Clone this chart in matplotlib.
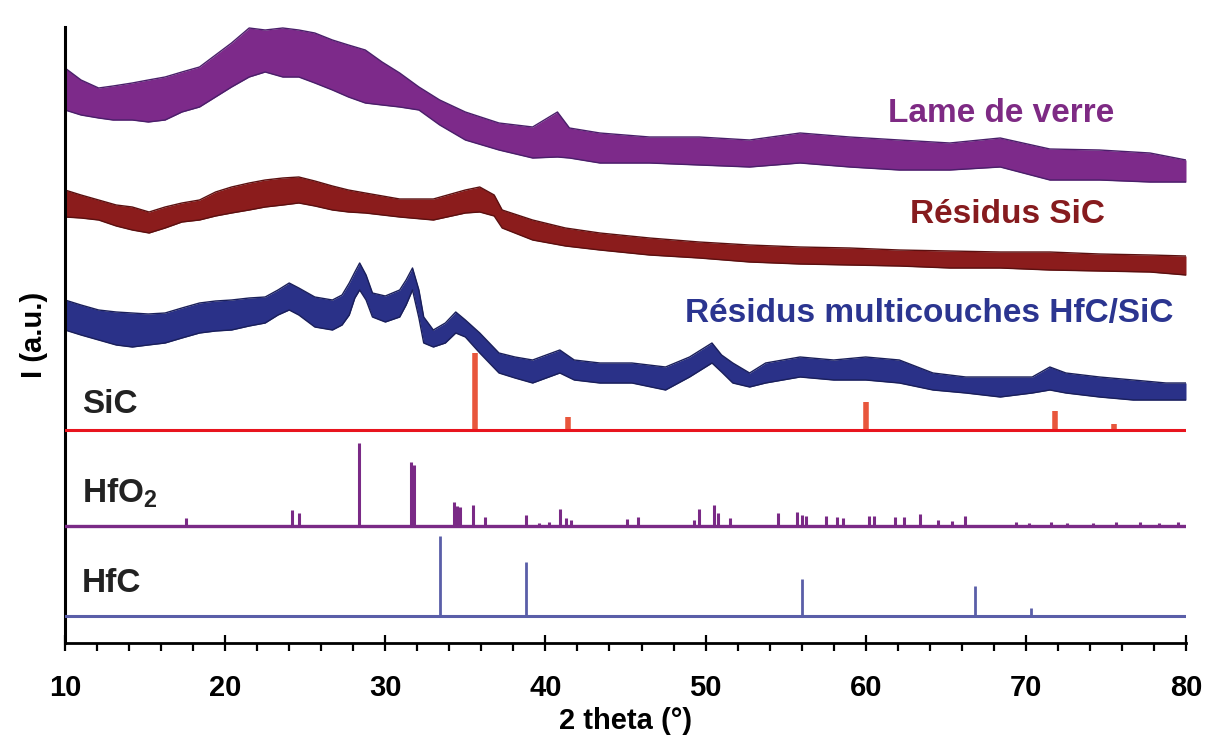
import matplotlib
matplotlib.use("Agg")
import matplotlib.pyplot as plt
import numpy as np

plt.rcParams['mathtext.fontset'] = 'custom'
plt.rcParams['mathtext.rm'] = 'Liberation Sans:bold'
plt.rcParams['mathtext.it'] = 'Liberation Sans:bold'
plt.rcParams['mathtext.bf'] = 'Liberation Sans:bold'

# ---------------- data (2 theta in degrees, intensity in a.u.) ----------------
# Lame de verre: envelope of the noisy trace
verre_x = [10.0, 11.0, 12.1, 13.0, 14.2, 15.2, 16.25, 17.3, 18.4, 19.4, 20.4, 21.5, 22.5, 23.6,
           24.6, 25.6, 26.7, 27.7, 28.75, 29.8, 30.9, 32.1, 33.4, 35.0, 37.1, 39.2, 40.75, 41.5,
           43.4, 46.5, 49.6, 52.75, 55.9, 59.0, 62.1, 65.25, 68.4, 71.5, 74.6, 77.75, 80.0]
verre_top = [575, 563, 555, 557, 560, 563, 566, 571, 576, 588, 600, 615, 613, 615,
             613, 610, 603, 598, 593, 581, 570, 556, 543, 531, 520, 516, 531, 515,
             510, 506, 506, 503, 510, 506, 503, 500, 505, 494, 493, 490, 483]
verre_bot = [533, 528, 525, 523, 523, 521, 523, 531, 536, 546, 556, 566, 571, 566,
             566, 560, 553, 546, 540, 538, 536, 533, 518, 503, 493, 485, 486, 485,
             480, 480, 478, 476, 480, 476, 473, 473, 476, 463, 463, 461, 461]

# Residus SiC
sic_res_x = [10.0, 11.0, 12.1, 13.2, 14.2, 15.25, 16.25, 17.3, 18.4, 19.4, 20.4, 21.5, 22.5, 23.6,
             24.6, 25.6, 26.7, 27.7, 28.75, 30.9, 33.0, 35.0, 35.9, 36.8, 37.3, 39.2, 41.25,
             43.4, 46.5, 49.6, 52.75, 55.9, 59.0, 62.1, 65.25, 68.4, 71.5, 74.6, 77.75, 80.0]
sic_res_top = [453, 448, 443, 438, 436, 431, 436, 440, 443, 451, 456, 460, 463, 465,
               466, 462, 457, 453, 450, 444, 444, 453, 456, 448, 433, 423, 415,
               410, 405, 401, 398, 396, 395, 393, 392, 391, 391, 389, 388, 387]
sic_res_bot = [426, 425, 423, 417, 413, 410, 415, 421, 423, 427, 430, 433, 436, 438,
               440, 437, 433, 431, 430, 426, 423, 430, 431, 427, 415, 403, 397,
               393, 388, 385, 381, 379, 378, 377, 375, 375, 373, 372, 371, 368]

# Residus multicouches HfC/SiC
multi_x = [10.0, 11.0, 12.1, 13.2, 14.2, 15.2, 16.25, 17.3, 18.4, 19.4, 20.4, 21.5, 22.5, 23.3,
           24.0, 24.6, 25.6, 26.7, 27.3, 27.75, 28.1, 28.4, 28.8, 29.2, 30.0, 30.9, 31.3, 31.7,
           32.1, 32.4, 33.0, 33.75, 34.4, 35.0, 35.9, 37.1, 38.1, 39.2, 40.9, 41.8, 43.4, 45.4,
           47.5, 49.0, 50.4, 51.0, 51.7, 52.75, 53.75, 55.9, 58.0, 60.0, 62.1, 64.2, 66.25,
           68.4, 70.4, 71.5, 72.5, 74.6, 76.7, 78.75, 80.0]
multi_top = [343, 338, 333, 331, 330, 329, 330, 335, 340, 342, 343, 345, 346, 353,
             360, 355, 346, 343, 348, 360, 371, 380, 368, 350, 347, 353, 363, 375,
             353, 326, 313, 320, 331, 323, 310, 290, 286, 283, 293, 283, 280, 280,
             276, 286, 300, 288, 280, 270, 280, 286, 283, 286, 283, 270, 266,
             266, 266, 276, 270, 266, 263, 260, 260]
multi_bot = [313, 308, 303, 298, 296, 298, 300, 305, 310, 312, 313, 317, 320, 328,
             333, 328, 316, 313, 318, 328, 345, 353, 343, 326, 321, 326, 338, 353,
             325, 300, 296, 300, 310, 306, 290, 270, 265, 260, 270, 263, 260, 260,
             253, 266, 280, 271, 260, 256, 260, 266, 263, 263, 260, 253, 250,
             246, 250, 253, 250, 246, 243, 243, 243]

# Reference patterns (stick positions, heights, baselines)
sic_base = 213
sic_pos = [35.6, 41.4, 60.0, 71.8, 75.5]
sic_h = [77, 13, 28, 19, 6]

hfo2_base = 117
hfo2_pos = [17.55, 24.2, 24.6, 28.35, 31.6, 31.8, 34.3, 34.5, 34.65, 35.5, 36.2, 38.8, 39.6,
            40.2, 40.9, 41.3, 41.6, 45.1, 45.8, 49.3, 49.6, 50.5, 50.8, 51.5, 54.5, 55.7,
            56.0, 56.3, 57.5, 58.2, 58.6, 60.2, 60.5, 61.8, 62.4, 63.4, 64.5, 65.4, 66.2,
            69.4, 70.2, 71.6, 72.6, 74.2, 75.6, 77.1, 78.3, 79.5]
hfo2_h = [8, 16, 13, 83, 64, 61, 24, 20, 19, 21, 9, 11, 3,
          4, 17, 8, 6, 7, 9, 6, 17, 21, 13, 8, 13, 14,
          11, 10, 10, 9, 8, 10, 10, 9, 9, 12, 6, 5, 10,
          4, 3, 4, 3, 3, 4, 4, 3, 4]

hfc_base = 27
hfc_pos = [33.4, 38.8, 56.0, 66.8, 70.3]
hfc_h = [80, 54, 37, 30, 8]

xticks = [10, 20, 30, 40, 50, 60, 70, 80]

# ---------------- figure ----------------
fig = plt.figure(figsize=(12.12, 7.44), dpi=100)
ax = fig.add_axes([65 / 1212, 101 / 744, (1186 - 65) / 1212, (643 - 27) / 744])
ax.set_xlim(10, 80)
ax.set_ylim(0, 616)

c_verre = '#7d2a8a'
c_sicres = '#8b1c1c'
c_multi = '#2a3188'

for xs, top, bot, col, edge in [
        (verre_x, verre_top, verre_bot, c_verre, '#4a1f6a'),
        (sic_res_x, sic_res_top, sic_res_bot, c_sicres, '#5a1010'),
        (multi_x, multi_top, multi_bot, c_multi, '#1a1f5a')]:
    ax.fill_between(xs, bot, top, color=col, lw=0)
    ax.plot(xs, top, color=edge, lw=1.0)
    ax.plot(xs, bot, color=edge, lw=1.0)

# SiC reference
ax.vlines(sic_pos, sic_base, np.array(sic_h) + sic_base, color='#e8563c', lw=4)
ax.axhline(sic_base, color='#e8141e', lw=2.2, zorder=3)
# HfO2 reference
ax.vlines(hfo2_pos, hfo2_base, np.array(hfo2_h) + hfo2_base, color='#7a2a86', lw=2.2)
ax.axhline(hfo2_base, color='#7a2a86', lw=2.4, zorder=3)
# HfC reference
ax.vlines(hfc_pos, hfc_base, np.array(hfc_h) + hfc_base, color='#5a5ea8', lw=2.0)
ax.axhline(hfc_base, color='#5a5ea8', lw=2.2, zorder=3)

# texts
bold = dict(fontweight='bold', family=['Liberation Sans', 'DejaVu Sans'], fontsize=24)
ax.text(888, 744 - 122, 'Lame de verre', color='#7e2a84', transform=None, ha='left', va='baseline', **bold)
ax.text(910, 744 - 223, 'Résidus SiC', color='#861b1e', transform=None, ha='left', va='baseline', **bold)
ax.text(685, 744 - 322, 'Résidus multicouches HfC/SiC', color='#2b3590', transform=None,
        ha='left', va='baseline', **bold)
ax.text(82, 744 - 413, 'SiC', color='#222222', transform=None, ha='left', va='baseline', **bold)
ax.text(82, 744 - 503, 'HfO$_2$', color='#222222', transform=None, ha='left', va='baseline', **bold)
ax.text(82, 744 - 592, 'HfC', color='#222222', transform=None, ha='left', va='baseline', **bold)

# axes styling
for s in ['top', 'right']:
    ax.spines[s].set_visible(False)
ax.spines['left'].set_linewidth(2.2)
ax.spines['bottom'].set_linewidth(2.0)
ax.set_yticks([])
ax.set_xticks(xticks)
ax.set_xticks(np.arange(12, 80, 2), minor=True)
narrow = ['Liberation Sans Narrow', 'Liberation Sans', 'DejaVu Sans']
ax.tick_params(axis='x', which='major', direction='inout', length=12, width=1.6, pad=16)
ax.tick_params(axis='x', which='minor', direction='out', length=6, width=1.6)
for lab in ax.get_xticklabels():
    lab.set_fontfamily(narrow)
    lab.set_fontweight('bold')
    lab.set_fontsize(21)
ax.set_xlabel('2 theta (°)', family=narrow, fontweight='bold', fontsize=21, labelpad=4)
ax.set_ylabel('I (a.u.)', family=narrow, fontweight='bold', fontsize=21, labelpad=12)

fig.savefig('out.png', dpi=100)
